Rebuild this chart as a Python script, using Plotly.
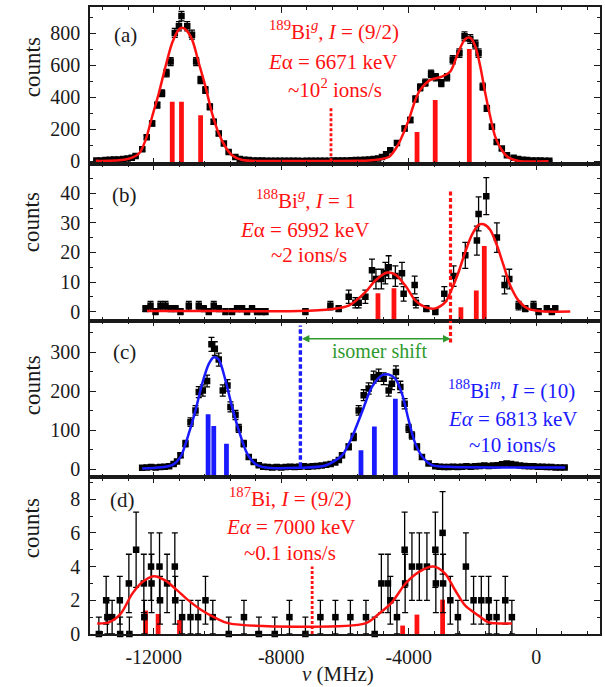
import numpy as np
import plotly.graph_objects as go

# ---------------- data (frequency in MHz, counts) ----------------
# (a) 189Bi g
A_FREQ = [-13800, -13660, -13520, -13380, -13240, -13100, -12960, -12820, -12690,
          -12570, -12360, -12220, -12050, -11890, -11740, -11600, -11470, -11340, -11210, -11130,
          -10950, -10800, -10670, -10530, -10380, -10240, -10120, -9960, -9800, -9650, -9440,
          -9300, -9160, -9020, -8880, -8740, -8600, -8460, -8320, -8180, -8040, -7900, -7760,
          -7620, -7480, -7340, -7200, -7060, -6920, -6780, -6640, -6500, -6360, -6220, -6080,
          -5940, -5800, -5660, -5520, -5380, -5240, -5100, -4960,
          -4840, -4710, -4580, -4370, -4130, -3950, -3790, -3640, -3480, -3300, -3150, -2980,
          -2800, -2620, -2410, -2250, -2070, -1910, -1810, -1680, -1550, -1390, -1240, -1080,
          -920, -710,
          -570, -430, -290, -150, -10, 130, 270, 410]
A_CNT = [6, 5, 8, 10, 12, 12, 15, 18, 22,
         33, 75, 150, 237, 352, 426, 551, 624, 803, 845, 908,
         845, 792, 624, 509, 446, 341, 247, 174, 111, 58, 27,
         14, 10, 8, 6, 5, 5, 4, 4, 3, 3, 4, 3,
         3, 3, 2, 3, 3, 4, 3, 4, 4, 5, 5, 6,
         6, 7, 8, 9, 10, 12, 14, 18,
         27, 45, 69, 115, 205, 258, 390, 463, 492, 547, 526, 489,
         526, 635, 677, 782, 765, 730, 677, 467, 331, 216, 121, 80,
         38, 23,
         15, 10, 8, 6, 5, 5, 4, 4]
A_FIT_FREQ = [-13825, -12885, -12467, -12258, -12051, -11841, -11631, -11424, -11214, -11120,
              -11004, -10797, -10587, -10377, -10170, -9960, -9750, -9543, -9229, -8496,
              -7000, -5500, -5257, -4944, -4630, -4474, -4317, -4003, -3793, -3637,
              -3323, -2959, -2696, -2436, -2226, -2069, -1912, -1756, -1599, -1442,
              -1285, -1078, -868, -555, 386]
A_FIT_CNT = [3, 11, 48, 132, 279, 426, 593, 740, 824, 835,
             824, 761, 615, 467, 300, 174, 90, 38, 8, 2,
             2, 3, 5, 12, 27, 60, 111, 258, 384, 447,
             509, 530, 562, 687, 765, 772, 719, 593, 426, 279,
             153, 69, 23, 2, 0]
A_STICK_FREQ = [-11420, -11130, -10530, -3740, -3170, -2100]
A_STICK_CNT = [373, 373, 289, 184, 384, 702]

# (b) 188Bi g
B_FREQ = [-12258, -12101, -11944, -11788, -11631, -11474, -11317, -11161, -10900, -10587,
          -10430, -10273, -10117, -9960, -9750, -9543, -9386, -9229, -9073, -8916, -8759,
          -8602, -8496,
          -7242, -6458, -6198, -5884, -5674, -5571, -5361, -5154, -5029, -4859, -4734, -4630,
          -4420, -4213, -4160, -3815, -3775, -3448, -3166, -2884, -2593, -2226, -1862, -1809,
          -1568, -1235, -994, -846, -555, -345, -85, 72, 332, 489, 596]
B_CNT = [1, 2, 0, 2, 2, 1, 1, 0, 2, 2,
         1, 0, 2, 1, 0, 0, 1, 1, 0, 1, 0,
         0, 0,
         0, 2, 1, 5, 3, 3, 5, 14, 11, 11, 13, 15,
         12, 13, 6, 9, 3, 1, 0, 6, 12, 19, 24, 33,
         39, 25, 9, 11, 2, 1, 2, 0, 1, 0, 1]
B_FIT_FREQ = [-12214, -9800, -7452, -6408, -5884, -5361, -5047, -4684, -4420, -4107, -3793,
              -3480, -3166, -2853, -2646, -2436, -2226, -2019, -1809, -1652, -1442, -1235,
              -1025, -815, -555, -241, 176, 1066]
B_FIT_CNT = [0.2, 0.2, 0.2, 0.9, 2, 6.6, 10.5, 13.2, 12.5, 8.8, 3.7,
             1.5, 1.1, 3.2, 7.7, 13.4, 20.2, 25.9, 29.3, 29.5, 27.6, 22.4,
             15.6, 8.8, 3.7, 0.9, 0.1, 0]
B_STICK_FREQ = [-4966, -4464, -2364, -1881, -1630]
B_STICK_CNT = [6.2, 7.9, 1.5, 7.1, 22.2]

# (c) 188Bi m
C_FREQ = [-12364, -12223, -12082, -11941, -11800, -11659, -11518, -11377, -11270,
          -11161, -11004, -10847, -10690, -10587, -10461, -10327, -10189, -10085, -9960,
          -9835, -9687, -9593, -9436, -9333, -9176, -9019, -8863, -8706,
          -8565, -8424, -8283, -8142, -8001, -7860, -7719, -7578, -7436, -7295, -7154, -7013,
          -6872, -6731, -6590, -6449, -6308, -6192,
          -6094, -5884, -5728, -5571, -5414, -5257, -5100, -4944, -4787, -4630, -4527, -4402,
          -4264, -4129, -4003, -3900, -3743, -3586, -3376, -3166,
          -3030, -2890, -2750, -2610, -2470, -2330, -2190, -2050, -1910, -1770, -1630, -1490,
          -1350, -1210, -1070, -930, -790, -650, -510, -370, -230, -90, 50, 190, 330, 470,
          610, 750, 890]
C_CNT = [4, 5, 6, 5, 6, 7, 8, 14, 20,
         36, 66, 121, 151, 198, 202, 226, 320, 309, 281,
         202, 215, 160, 139, 105, 66, 32, 19, 11,
         7, 6, 5, 6, 5, 6, 7, 6, 7, 8, 7, 8,
         9, 10, 12, 14, 18, 24,
         36, 58, 83, 151, 190, 207, 236, 241, 232, 202, 219, 249,
         211, 168, 105, 87, 58, 32, 15, 8,
         7, 6, 6, 7, 6, 7, 8, 7, 8, 9, 10, 9,
         10, 11, 13, 15, 14, 12, 10, 9, 8, 8, 7, 7, 6, 6,
         5, 5, 5]
C_FIT_FREQ = [-12364, -11424, -11161, -10900, -10690, -10483, -10273, -10117, -9960, -9750,
              -9543, -9333, -9073, -8809, -8496, -7452, -6615, -6094, -5781, -5467,
              -5154, -4840, -4630, -4420, -4213, -4003, -3793, -3533, -3273, -2749, 909]
C_FIT_CNT = [2.5, 11, 32, 92, 151, 219, 270, 287, 281, 228,
             160, 100, 41, 14, 5, 4, 10, 36, 83, 147,
             211, 241, 243, 232, 194, 126, 66, 28, 11, 6.6, 5]
C_STICK_FREQ = [-10295, -10117, -9719, -5499, -5079, -4420]
C_STICK_CNT = [141, 111, 66, 49, 110, 181]

# (d) 187Bi
D_FREQ = [-13722, -13493, -13455, -13306, -13064, -13054, -12781, -12765, -12553, -12311,
          -12296, -12085, -12069, -11819, -11803, -11581, -11339, -11324, -11110, -10847,
          -10609, -10377, -10148, -9646, -9170, -8700, -8204, -7743, -7242, -6772,
          -6301, -5831, -5342, -5069, -4859, -4652, -4577, -4370, -4129, -4113,
          -3900, -3668, -3430, -3166, -3150, -2938, -2923, -2696, -2458, -2207,
          -1966, -1724, -1495, -1480, -1245, -972, -765]
D_CNT = [0, 2, 1, 1, 2, 0, 3, 0, 5, 3,
         1, 4, 3, 4, 2, 3, 4, 2, 1, 1,
         1, 2, 1, 0, 1, 0, 0, 1, 0, 1,
         1, 1, 1, 0, 3, 3, 2, 1, 5, 3,
         4, 4, 4, 5, 3, 6, 3, 2, 1, 4,
         2, 2, 2, 1, 1, 2, 1]
D_FIT_FREQ = [-13775, -13408, -13042, -12678, -12364, -11998, -11631, -11317, -10900, -10483,
              -10063, -9646, -5361, -4944, -4527, -4107, -3690, -3220, -2853, -2539,
              -2226, -1809, -1495, -1182, -765]
D_FIT_CNT = [0.63, 0.69, 1.19, 2.38, 3.07, 3.43, 3.17, 2.68, 1.98, 1.39,
             0.95, 0.63, 0.63, 1.19, 1.88, 2.98, 3.67, 4.0, 3.57, 2.58,
             1.68, 1.09, 0.69, 0.63, 0.63]
D_STICK_FREQ = [-12258, -11863, -11192, -4191, -3743, -2938]
D_STICK_CNT = [1.39, 1.19, 0.83, 0.5, 1.15, 2.04]

# reference (dashed) lines: frequency, count extent
REF_A = dict(f=-6440, c=[0, 343])
REF_B = dict(f=-2690, c=[40.6, -3])
REF_C_RED = dict(f=-2690, c=[325, 381])
REF_C_BLUE = dict(f=-7400, c=[7, 368])
REF_D = dict(f=-7030, c=[0, 4])
ISOMER_Y = 334

X_TICKS = [-12000, -8000, -4000, 0]
X_TICK_LABELS = ["-12000", "-8000", "-4000", "0"]

# ---------------- styling ----------------
RED = "#ff1111"
BLUE = "#1a1aff"
GREEN = "#2e9a2e"
FONT = "Liberation Serif, Times New Roman, serif"
INK = "#1a1a1a"

panels = [
    dict(s="", f=A_FREQ, c=A_CNT, ff=A_FIT_FREQ, fc=A_FIT_CNT, sf=A_STICK_FREQ, sc=A_STICK_CNT,
         col=RED, yr=[-15, 965], dt=200, mdt=100, dom=[0.75, 1.0]),
    dict(s="2", f=B_FREQ, c=B_CNT, ff=B_FIT_FREQ, fc=B_FIT_CNT, sf=B_STICK_FREQ, sc=B_STICK_CNT,
         col=RED, yr=[-3, 49.95], dt=10, mdt=5, dom=[0.5, 0.75]),
    dict(s="3", f=C_FREQ, c=C_CNT, ff=C_FIT_FREQ, fc=C_FIT_CNT, sf=C_STICK_FREQ, sc=C_STICK_CNT,
         col=BLUE, yr=[-20, 381], dt=100, mdt=50, dom=[0.25, 0.5]),
    dict(s="4", f=D_FREQ, c=D_CNT, ff=D_FIT_FREQ, fc=D_FIT_CNT, sf=D_STICK_FREQ, sc=D_STICK_CNT,
         col=RED, yr=[0, 9.3], dt=2, mdt=1, dom=[0.0, 0.25]),
]

fig = go.Figure()
layout_axes = {}
for i, p in enumerate(panels):
    xa, ya = "x" + p["s"], "y" + p["s"]
    cnt = np.array(p["c"], dtype=float)
    err = np.sqrt(np.maximum(cnt, 1.0))
    errm = np.minimum(err, cnt) if i == 3 else err
    sc = np.array(p["sc"], dtype=float)
    fig.add_trace(go.Bar(x=p["sf"], y=sc - p["yr"][0], base=p["yr"][0], width=150,
                         marker=dict(color=p["col"], line=dict(width=0)),
                         xaxis=xa, yaxis=ya, hoverinfo="skip"))
    fig.add_trace(go.Scatter(x=p["f"], y=cnt, mode="markers", xaxis=xa, yaxis=ya,
                             marker=dict(symbol="square", size=6.5, color="black"),
                             error_y=dict(type="data", array=err, arrayminus=errm,
                                          color="black", thickness=1.3, width=3),
                             cliponaxis=(i != 3)))
    fig.add_trace(go.Scatter(x=p["ff"], y=p["fc"], mode="lines", xaxis=xa, yaxis=ya,
                             line=dict(color=p["col"], width=2.5, shape="spline", smoothing=0.8)))
    key = "" if p["s"] == "" else p["s"]
    layout_axes["xaxis" + key] = dict(
        domain=[0, 1], anchor=ya, range=[-14000, 2000], tickmode="array", tickvals=X_TICKS,
        ticktext=X_TICK_LABELS,
        ticks="inside", ticklen=6, tickwidth=1.4, tickcolor=INK,
        showline=True, linewidth=1.5, linecolor=INK, mirror="ticks",
        showgrid=False, zeroline=False, showticklabels=(i == 3),
        tickfont=dict(family=FONT, size=20, color=INK), ticklabelstandoff=4,
        minor=dict(dtick=800, tick0=0, ticks="inside", ticklen=3.5, tickwidth=1.2,
                   tickcolor=INK, showgrid=False),
        **({} if i == 0 else dict(matches="x")))
    layout_axes["yaxis" + key] = dict(
        domain=p["dom"], anchor=xa, range=p["yr"], dtick=p["dt"], tick0=0,
        ticks="inside", ticklen=6, tickwidth=1.4, tickcolor=INK,
        showline=True, linewidth=1.5, linecolor=INK, mirror="ticks",
        showgrid=False, zeroline=False,
        tickfont=dict(family=FONT, size=20, color=INK), ticklabelstandoff=4,
        minor=dict(dtick=p["mdt"], tick0=0, ticks="inside", ticklen=3.5, tickwidth=1.2,
                   tickcolor=INK, showgrid=False))

# reference lines
def vline(ref, xa, ya, color, dash, width=3.0):
    fig.add_trace(go.Scatter(x=[ref["f"], ref["f"]], y=ref["c"], mode="lines",
                             xaxis=xa, yaxis=ya, line=dict(color=color, width=width, dash=dash)))

vline(REF_A, "x", "y", RED, "3px,2px", 2.8)
vline(REF_B, "x2", "y2", RED, "4px,2.5px", 3.2)
vline(REF_C_RED, "x3", "y3", RED, "4px,2.5px", 3.2)
vline(REF_C_BLUE, "x3", "y3", BLUE, "4.5px,2.5px", 3.4)
vline(REF_D, "x4", "y4", RED, "3px,2px", 2.8)

def txt(x, y, s, color=INK, size=21, angle=0):
    return dict(x=x, y=y, xref="paper", yref="paper", text=s, showarrow=False,
                xanchor="center", yanchor="middle", textangle=angle,
                font=dict(family=FONT, size=size, color=color))

ann = [
    txt(0.0697, 0.9553, "(a)"), txt(0.0684, 0.7002, "(b)"),
    txt(0.0684, 0.4502, "(c)"), txt(0.0645, 0.2137, "(d)"),
    txt(0.4785, 0.9620, "<sup>189</sup>Bi<sup><i>g</i></sup>, <i>I</i> = (9/2)", RED),
    txt(0.4746, 0.9123, "<i>E</i>α = 6671 keV", RED),
    txt(0.4805, 0.8700, "~10<sup>2</sup> ions/s", RED),
    txt(0.4238, 0.6930, "<sup>188</sup>Bi<sup><i>g</i></sup>, <i>I</i> = 1", RED),
    txt(0.4199, 0.6443, "<i>E</i>α = 6992 keV", RED),
    txt(0.4297, 0.6045, "~2 ions/s", RED),
    txt(0.8262, 0.3900, "<sup>188</sup>Bi<sup><i>m</i></sup>, <i>I</i> = (10)", BLUE),
    txt(0.8281, 0.3424, "<i>Eα</i> = 6813 keV", BLUE),
    txt(0.8281, 0.3014, "~10 ions/s", BLUE),
    txt(0.3926, 0.2170, "<sup>187</sup>Bi, <i>I</i> = (9/2)", RED),
    txt(0.3926, 0.1707, "<i>Eα</i> = 7000 keV", RED),
    txt(0.3926, 0.1292, "~0.1 ions/s", RED),
    txt(-0.1133, 0.9043, "counts", INK, 23, -90),
    txt(-0.1133, 0.6571, "counts", INK, 23, -90),
    txt(-0.1133, 0.3971, "counts", INK, 23, -90),
    txt(-0.1133, 0.1691, "counts", INK, 23, -90),
    txt(0.4863, -0.0640, "<i>ν</i> (MHz)", INK, 21),
    dict(x=REF_C_RED["f"], y=ISOMER_Y, ax=REF_C_BLUE["f"], ay=ISOMER_Y,
         xref="x3", yref="y3", axref="x3", ayref="y3", text="", showarrow=True,
         arrowhead=2, arrowside="end+start", arrowsize=1, arrowwidth=1.5, arrowcolor=GREEN),
    dict(x=-4916, y=304, xref="x3", yref="y3", text="isomer shift", showarrow=False,
         font=dict(family=FONT, size=20, color=GREEN), xanchor="center", yanchor="middle"),
]

fig.update_layout(
    width=605, height=687, margin=dict(l=90, r=3, t=7, b=53),
    paper_bgcolor="white", plot_bgcolor="white", showlegend=False,
    barmode="overlay", annotations=ann, font=dict(family=FONT, color=INK),
    **layout_axes)

fig.write_html("out.html", config={"displayModeBar": False},
               post_script="document.body.style.margin='0';document.body.style.padding='0';"
                           "document.body.style.overflow='hidden';")
